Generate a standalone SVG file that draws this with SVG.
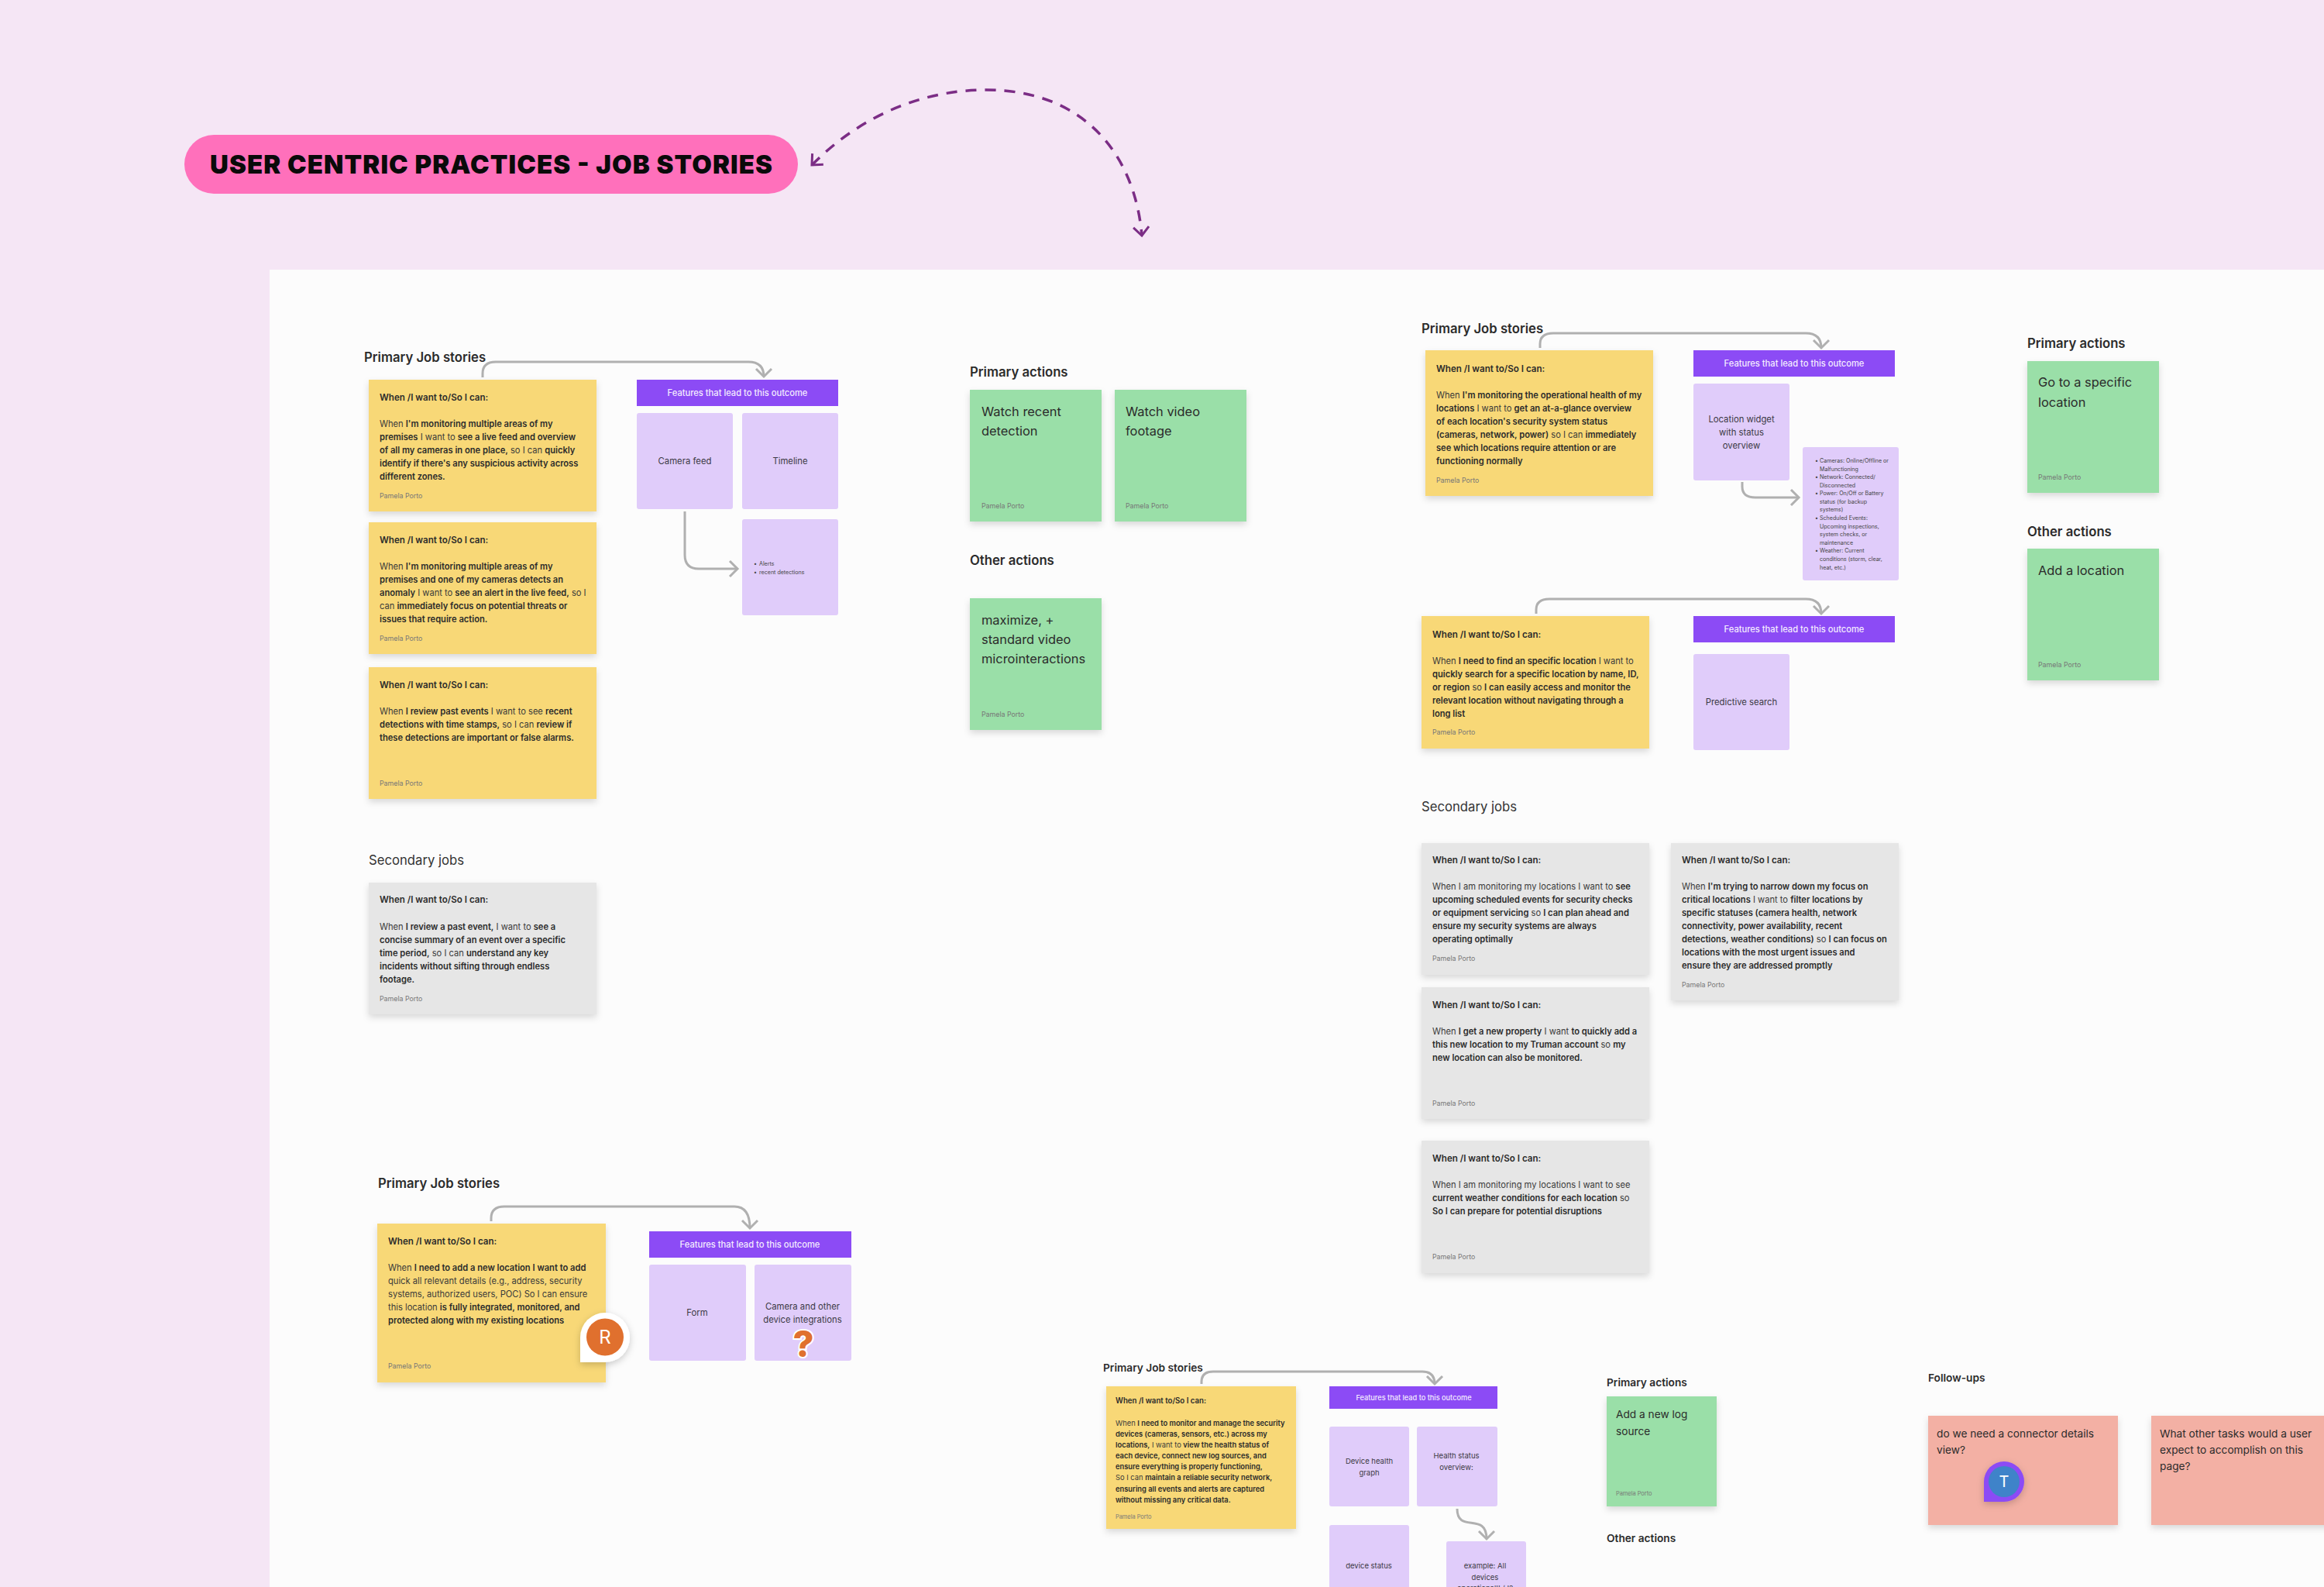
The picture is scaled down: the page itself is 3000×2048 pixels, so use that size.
<svg xmlns="http://www.w3.org/2000/svg" width="3000" height="2048" viewBox="0 0 3000 2048">
<style>
text{font-family:Inter,"Liberation Sans",sans-serif;fill:#2b2b2b}
.y{fill:#f8d877}.g{fill:#e6e6e6}.gr{fill:#9adfa8}.pk{fill:#f3b0a4}
.s{filter:url(#sh)}
.bar{fill:#8c4bf5}.li{fill:#e0ccfa}
.t{font-size:11.15px;font-weight:400;fill:#3a3a3a}
.t .b{font-weight:600;fill:#2b2b2b}
.h{font-size:11.6px;font-weight:600}
.a{font-size:8.8px;fill:#777}
.ft{font-size:11.15px;font-weight:500;fill:#f4ecff;text-anchor:middle}
.lt{font-size:11.3px;fill:#3c3a44;text-anchor:middle}
.sm{font-size:7.1px;fill:#444}
.big{font-size:16.4px;fill:#2b2b2b}
.ttl{font-size:16.7px;font-weight:600}
.sec{font-size:16.7px;fill:#333}
.t2{font-size:9.35px;fill:#3a3a3a}.t2 .b{font-weight:600;fill:#2b2b2b}
.h2{font-size:9.7px;font-weight:600}
.a2{font-size:7.4px;fill:#777}
.ft2{font-size:9.2px;font-weight:500;fill:#f4ecff;text-anchor:middle}
.lt2{font-size:9.5px;fill:#3c3a44;text-anchor:middle}
.ttl2{font-size:13.7px;font-weight:600}
.big2{font-size:13.7px;fill:#2b2b2b}
.c{fill:none;stroke:#b0b0b0;stroke-width:3;marker-end:url(#ah)}
</style>
<defs>
<filter id="sh" x="-10%" y="-10%" width="120%" height="125%"><feDropShadow dx="0" dy="4" stdDeviation="4" flood-color="#000" flood-opacity=".14"/></filter>
<filter id="sh2" x="-40%" y="-40%" width="180%" height="180%"><feDropShadow dx="0" dy="3" stdDeviation="5" flood-color="#000" flood-opacity=".2"/></filter>
<marker id="ah" markerUnits="userSpaceOnUse" markerWidth="24" markerHeight="24" refX="12" refY="12" orient="auto"><path d="M2,2 L12,12 L2,22" fill="none" stroke="#b0b0b0" stroke-width="3"/></marker>
<marker id="dh" markerUnits="userSpaceOnUse" markerWidth="28" markerHeight="28" refX="14" refY="14" orient="auto-start-reverse"><path d="M3,4 L14,14 L3,24" fill="none" stroke="#7b2d85" stroke-width="3"/></marker>
</defs>
<rect width="3000" height="2048" fill="#f5e6f5"/>
<rect x="348" y="348" width="2652" height="1700" fill="#fcfcfc"/>
<g id="title"><rect x="238" y="174" width="792" height="76" rx="38" fill="#ff70bb"/>
<text x="271" y="224" font-size="33" font-weight="900" style="fill:#0a0a0a" textLength="726" lengthAdjust="spacing">USER CENTRIC PRACTICES - JOB STORIES</text></g>
<g id="connectors">
<path d="M1048,213 C1110,150 1190,116 1273,116 C1400,116 1465,200 1474,304" fill="none" stroke="#7b2d85" stroke-width="3.500" stroke-dasharray="14 11" marker-start="url(#dh)" marker-end="url(#dh)"/>
<path class="c" d="M623,487 V482 Q623,467 640,467 H966 Q986,467 986,486"/>
<path class="c" d="M884,660 V716 Q884,734 902,734 H952"/>
<path class="c" d="M1988,449 V444 Q1988,430 2005,430 H2331 Q2351,430 2351,449"/>
<path class="c" d="M2249,622 V628 Q2249,642 2266,642 H2322"/>
<path class="c" d="M1983,792 V787 Q1983,773 2000,773 H2331 Q2351,773 2351,792"/>
<path class="c" d="M634,1576 V1572 Q634,1557 651,1557 H948 Q968,1557 968,1585"/>
<path class="c" d="M1551,1786 V1783 Q1551,1770 1566,1770 H1836 Q1852,1770 1852,1786"/>
<path class="c" d="M1881,1947 C1881,1980 1919,1950 1919,1986"/>
</g>

<g id="block1">
<text class="ttl" x="470" y="467">Primary Job stories</text>
<g id="story1"><rect class="y s" x="476" y="490" width="294" height="170"/>
<text class="h" x="490" y="517">When /I want to/So I can:</text>
<text class="t" x="490" y="551">When <tspan class="b">I'm monitoring multiple areas of my</tspan></text>
<text class="t" x="490" y="568"><tspan class="b">premises</tspan>  I want to <tspan class="b">see a live feed and overview</tspan></text>
<text class="t" x="490" y="585"><tspan class="b">of all my cameras in one place,</tspan> so I can <tspan class="b">quickly</tspan></text>
<text class="t" x="490" y="602"><tspan class="b">identify if there's any suspicious activity across</tspan></text>
<text class="t" x="490" y="619"><tspan class="b">different zones.</tspan></text>
<text class="a" x="490" y="643">Pamela Porto</text></g>
<g id="story2"><rect class="y s" x="476" y="674" width="294" height="170"/>
<text class="h" x="490" y="701">When /I want to/So I can:</text>
<text class="t" x="490" y="735">When <tspan class="b">I'm monitoring multiple areas of my</tspan></text>
<text class="t" x="490" y="752"><tspan class="b">premises and one of my cameras detects an</tspan></text>
<text class="t" x="490" y="769"><tspan class="b">anomaly</tspan> I want to <tspan class="b">see an alert in the live feed,</tspan> so I</text>
<text class="t" x="490" y="786">can <tspan class="b">immediately focus on potential threats or</tspan></text>
<text class="t" x="490" y="803"><tspan class="b">issues that require action.</tspan></text>
<text class="a" x="490" y="827">Pamela Porto</text></g>
<g id="story3"><rect class="y s" x="476" y="861" width="294" height="170"/>
<text class="h" x="490" y="888">When /I want to/So I can:</text>
<text class="t" x="490" y="922">When <tspan class="b">I review past events</tspan> I want to see <tspan class="b">recent</tspan></text>
<text class="t" x="490" y="939"><tspan class="b">detections with time stamps,</tspan> so I can <tspan class="b">review if</tspan></text>
<text class="t" x="490" y="956"><tspan class="b">these detections are important or false alarms.</tspan></text>
<text class="a" x="490" y="1014">Pamela Porto</text></g>
<g id="features1"><rect class="bar" x="822" y="490" width="260" height="34"/><text class="ft" x="952" y="511">Features that lead to this outcome</text></g>
<g id="camera-feed"><rect class="li" x="822" y="533" width="124" height="124" rx="3"/><text class="lt" x="884" y="599">Camera feed</text></g>
<g id="timeline"><rect class="li" x="958" y="533" width="124" height="124" rx="3"/><text class="lt" x="1020" y="599">Timeline</text></g>
<g id="alerts"><rect class="li" x="958" y="670" width="124" height="124" rx="3"/>
<text class="sm" x="973" y="730">•</text><text class="sm" x="980" y="730">Alerts</text>
<text class="sm" x="973" y="741">•</text><text class="sm" x="980" y="741">recent detections</text></g>
<text class="sec" x="476" y="1116">Secondary jobs</text>
<g id="secondary1"><rect class="g s" x="476" y="1139" width="294" height="170"/>
<text class="h" x="490" y="1165">When /I want to/So I can:</text>
<text class="t" x="490" y="1200">When <tspan class="b">I review a past event,</tspan> I want to <tspan class="b">see a</tspan></text>
<text class="t" x="490" y="1217"><tspan class="b">concise summary of an event over a specific</tspan></text>
<text class="t" x="490" y="1234"><tspan class="b">time period,</tspan> so I can <tspan class="b">understand any key</tspan></text>
<text class="t" x="490" y="1251"><tspan class="b">incidents without sifting through endless</tspan></text>
<text class="t" x="490" y="1268"><tspan class="b">footage.</tspan></text>
<text class="a" x="490" y="1292">Pamela Porto</text></g>
</g>

<g id="block2">
<text class="ttl" x="1252" y="486">Primary actions</text>
<g id="watch-recent"><rect class="gr s" x="1252" y="503" width="170" height="170"/>
<text class="big" x="1267" y="537">Watch recent</text><text class="big" x="1267" y="562">detection</text><text class="a" x="1267" y="656">Pamela Porto</text></g>
<g id="watch-video"><rect class="gr s" x="1439" y="503" width="170" height="170"/>
<text class="big" x="1453" y="537">Watch video</text><text class="big" x="1453" y="562">footage</text><text class="a" x="1453" y="656">Pamela Porto</text></g>
<text class="ttl" x="1252" y="729">Other actions</text>
<g id="maximize"><rect class="gr s" x="1252" y="772" width="170" height="170"/>
<text class="big" x="1267" y="806">maximize, +</text><text class="big" x="1267" y="831">standard video</text><text class="big" x="1267" y="856">microinteractions</text><text class="a" x="1267" y="925">Pamela Porto</text></g>
</g>

<g id="block3">
<text class="ttl" x="1835" y="430">Primary Job stories</text>
<g id="story4"><rect class="y s" x="1840" y="452" width="294" height="188"/>
<text class="h" x="1854" y="480">When /I want to/So I can:</text>
<text class="t" x="1854" y="514">When <tspan class="b">I'm monitoring the operational health of my</tspan></text>
<text class="t" x="1854" y="531"><tspan class="b">locations</tspan>  I want to <tspan class="b">get an at-a-glance overview</tspan></text>
<text class="t" x="1854" y="548"><tspan class="b">of each location's security system status</tspan></text>
<text class="t" x="1854" y="565"><tspan class="b">(cameras, network, power)</tspan> so I can <tspan class="b">immediately</tspan></text>
<text class="t" x="1854" y="582"><tspan class="b">see which locations require attention or are</tspan></text>
<text class="t" x="1854" y="599"><tspan class="b">functioning normally</tspan></text>
<text class="a" x="1854" y="623">Pamela Porto</text></g>
<g id="features4"><rect class="bar" x="2186" y="452" width="260" height="34"/><text class="ft" x="2316" y="473">Features that lead to this outcome</text></g>
<g id="location-widget"><rect class="li" x="2186" y="495" width="124" height="125" rx="3"/>
<text class="lt" x="2248" y="545">Location widget</text><text class="lt" x="2248" y="562">with status</text><text class="lt" x="2248" y="579">overview</text></g>
<g id="status-list"><rect class="li" x="2327" y="577" width="124" height="172" rx="3"/>
<text class="sm" x="2343" y="597">•</text><text class="sm" x="2349" y="597">Cameras: Online/Offline or</text>
<text class="sm" x="2349" y="608">Malfunctioning</text>
<text class="sm" x="2343" y="618">•</text><text class="sm" x="2349" y="618">Network: Connected/</text>
<text class="sm" x="2349" y="629">Disconnected</text>
<text class="sm" x="2343" y="639">•</text><text class="sm" x="2349" y="639">Power: On/Off or Battery</text>
<text class="sm" x="2349" y="650">status (for backup</text>
<text class="sm" x="2349" y="660">systems)</text>
<text class="sm" x="2343" y="671">•</text><text class="sm" x="2349" y="671">Scheduled Events:</text>
<text class="sm" x="2349" y="682">Upcoming inspections,</text>
<text class="sm" x="2349" y="692">system checks, or</text>
<text class="sm" x="2349" y="703">maintenance</text>
<text class="sm" x="2343" y="713">•</text><text class="sm" x="2349" y="713">Weather: Current</text>
<text class="sm" x="2349" y="724">conditions (storm, clear,</text>
<text class="sm" x="2349" y="735">heat, etc.)</text></g>
<g id="story5"><rect class="y s" x="1835" y="795" width="294" height="171"/>
<text class="h" x="1849" y="823">When /I want to/So I can:</text>
<text class="t" x="1849" y="857">When <tspan class="b">I need to find an specific location</tspan> I want to</text>
<text class="t" x="1849" y="874"><tspan class="b">quickly search for a specific location by name, ID,</tspan></text>
<text class="t" x="1849" y="891"><tspan class="b">or region</tspan> so <tspan class="b">I can easily access and monitor the</tspan></text>
<text class="t" x="1849" y="908"><tspan class="b">relevant location without navigating through a</tspan></text>
<text class="t" x="1849" y="925"><tspan class="b">long list</tspan></text>
<text class="a" x="1849" y="948">Pamela Porto</text></g>
<g id="features5"><rect class="bar" x="2186" y="795" width="260" height="34"/><text class="ft" x="2316" y="816">Features that lead to this outcome</text></g>
<g id="predictive"><rect class="li" x="2186" y="844" width="124" height="124" rx="3"/><text class="lt" x="2248" y="910">Predictive search</text></g>
<text class="sec" x="1835" y="1047">Secondary jobs</text>
<g id="secondary2"><rect class="g s" x="1835" y="1088" width="294" height="170"/>
<text class="h" x="1849" y="1114">When /I want to/So I can:</text>
<text class="t" x="1849" y="1148">When I am monitoring my locations I want to <tspan class="b">see</tspan></text>
<text class="t" x="1849" y="1165"><tspan class="b">upcoming scheduled events for security checks</tspan></text>
<text class="t" x="1849" y="1182"><tspan class="b">or equipment servicing</tspan> so <tspan class="b">I can plan ahead and</tspan></text>
<text class="t" x="1849" y="1199"><tspan class="b">ensure my security systems are always</tspan></text>
<text class="t" x="1849" y="1216"><tspan class="b">operating optimally</tspan></text>
<text class="a" x="1849" y="1240">Pamela Porto</text></g>
<g id="secondary3"><rect class="g s" x="2157" y="1088" width="294" height="203"/>
<text class="h" x="2171" y="1114">When /I want to/So I can:</text>
<text class="t" x="2171" y="1148">When <tspan class="b">I'm trying to narrow down my focus on</tspan></text>
<text class="t" x="2171" y="1165"><tspan class="b">critical locations</tspan> I want to <tspan class="b">filter locations by</tspan></text>
<text class="t" x="2171" y="1182"><tspan class="b">specific statuses (camera health, network</tspan></text>
<text class="t" x="2171" y="1199"><tspan class="b">connectivity, power availability, recent</tspan></text>
<text class="t" x="2171" y="1216"><tspan class="b">detections, weather conditions)</tspan> so <tspan class="b">I can focus on</tspan></text>
<text class="t" x="2171" y="1233"><tspan class="b">locations with the most urgent issues and</tspan></text>
<text class="t" x="2171" y="1250"><tspan class="b">ensure they are addressed promptly</tspan></text>
<text class="a" x="2171" y="1274">Pamela Porto</text></g>
<g id="secondary4"><rect class="g s" x="1835" y="1274" width="294" height="170"/>
<text class="h" x="1849" y="1301">When /I want to/So I can:</text>
<text class="t" x="1849" y="1335">When <tspan class="b">I get a new property</tspan> I want <tspan class="b">to quickly add a</tspan></text>
<text class="t" x="1849" y="1352"><tspan class="b">this new location to my Truman account</tspan> so <tspan class="b">my</tspan></text>
<text class="t" x="1849" y="1369"><tspan class="b">new location can also be monitored.</tspan></text>
<text class="a" x="1849" y="1427">Pamela Porto</text></g>
<g id="secondary5"><rect class="g s" x="1835" y="1472" width="294" height="171"/>
<text class="h" x="1849" y="1499">When /I want to/So I can:</text>
<text class="t" x="1849" y="1533">When I am monitoring my locations I want to see</text>
<text class="t" x="1849" y="1550"><tspan class="b">current weather conditions for each location</tspan> so</text>
<text class="t" x="1849" y="1567"><tspan class="b">So I can prepare for potential disruptions</tspan></text>
<text class="a" x="1849" y="1625">Pamela Porto</text></g>
</g>

<g id="block4">
<text class="ttl" x="2617" y="449">Primary actions</text>
<g id="go-to"><rect class="gr s" x="2617" y="466" width="170" height="170"/>
<text class="big" x="2631" y="499">Go to a specific</text><text class="big" x="2631" y="525">location</text><text class="a" x="2631" y="619">Pamela Porto</text></g>
<text class="ttl" x="2617" y="692">Other actions</text>
<g id="add-location"><rect class="gr s" x="2617" y="708" width="170" height="170"/>
<text class="big" x="2631" y="742">Add a location</text><text class="a" x="2631" y="861">Pamela Porto</text></g>
</g>

<g id="block5">
<text class="ttl" x="488" y="1533">Primary Job stories</text>
<g id="story6"><rect class="y s" x="487" y="1579" width="295" height="205"/>
<text class="h" x="501" y="1606">When /I want to/So I can:</text>
<text class="t" x="501" y="1640">When <tspan class="b">I need to add a new location I want to add</tspan></text>
<text class="t" x="501" y="1657">quick all relevant details (e.g., address, security</text>
<text class="t" x="501" y="1674">systems, authorized users, POC) So I can ensure</text>
<text class="t" x="501" y="1691">this location <tspan class="b">is fully integrated, monitored, and</tspan></text>
<text class="t" x="501" y="1708"><tspan class="b">protected along with my existing locations</tspan></text>
<text class="a" x="501" y="1766">Pamela Porto</text></g>
<g id="features6"><rect class="bar" x="838" y="1589" width="261" height="34"/><text class="ft" x="968" y="1610">Features that lead to this outcome</text></g>
<g id="form"><rect class="li" x="838" y="1632" width="125" height="124" rx="3"/><text class="lt" x="900" y="1698">Form</text></g>
<g id="camera-device"><rect class="li" x="974" y="1632" width="125" height="124" rx="3"/>
<text class="lt" x="1036" y="1690">Camera and other</text><text class="lt" x="1036" y="1707">device integrations</text>
<text x="1037" y="1751" font-size="47" font-weight="800" text-anchor="middle" style="fill:#e0702e;stroke:#fff;stroke-width:4;paint-order:stroke">?</text></g>
<g id="cursor-r"><path d="M749,1758 V1726 A32,32 0 1 1 781,1758 Z" fill="#fff" filter="url(#sh2)"/><circle cx="781" cy="1725.500" r="24" fill="#e0702e"/>
<text x="781" y="1734" font-size="24" text-anchor="middle" style="fill:#fff">R</text></g>
</g>

<g id="block6">
<text class="ttl2" x="1424" y="1770">Primary Job stories</text>
<g id="story7"><rect class="y s" x="1428" y="1789" width="245" height="184"/>
<text class="h2" x="1440" y="1811">When /I want to/So I can:</text>
<text class="t2" x="1440" y="1840">When <tspan class="b">I need to monitor and manage the security</tspan></text>
<text class="t2" x="1440" y="1854"><tspan class="b">devices (cameras, sensors, etc.) across my</tspan></text>
<text class="t2" x="1440" y="1868"><tspan class="b">locations,</tspan> I want to <tspan class="b">view the health status of</tspan></text>
<text class="t2" x="1440" y="1882"><tspan class="b">each device, connect new log sources, and</tspan></text>
<text class="t2" x="1440" y="1896"><tspan class="b">ensure everything is properly functioning,</tspan></text>
<text class="t2" x="1440" y="1910">So I can <tspan class="b">maintain a reliable security network,</tspan></text>
<text class="t2" x="1440" y="1925"><tspan class="b">ensuring all events and alerts are captured</tspan></text>
<text class="t2" x="1440" y="1939"><tspan class="b">without missing any critical data.</tspan></text>
<text class="a2" x="1440" y="1960">Pamela Porto</text></g>
<g id="features7"><rect class="bar" x="1716" y="1789" width="217" height="29"/><text class="ft2" x="1825" y="1807">Features that lead to this outcome</text></g>
<g id="device-health"><rect class="li" x="1716" y="1841" width="103" height="103" rx="3"/>
<text class="lt2" x="1767.500" y="1889">Device health</text><text class="lt2" x="1767.500" y="1904">graph</text></g>
<g id="health-status"><rect class="li" x="1829" y="1841" width="104" height="103" rx="3"/>
<text class="lt2" x="1880" y="1882">Health status</text><text class="lt2" x="1880" y="1897">overview:</text></g>
<g id="device-status"><rect class="li" x="1716" y="1968" width="103" height="103" rx="3"/><text class="lt2" x="1767" y="2024">device status</text></g>
<g id="example"><rect class="li" x="1867" y="1989" width="103" height="103" rx="3"/>
<text class="lt2" x="1917" y="2024">example: All</text><text class="lt2" x="1917" y="2039">devices</text><text class="lt2" x="1917" y="2053">operational!! / !?</text></g>
<text class="ttl2" x="2074" y="1789">Primary actions</text>
<g id="add-log"><rect class="gr s" x="2074" y="1802" width="142" height="142"/>
<text class="big2" x="2086" y="1830">Add a new log</text><text class="big2" x="2086" y="1852">source</text><text class="a2" x="2086" y="1930">Pamela Porto</text></g>
<text class="ttl2" x="2074" y="1990">Other actions</text>
<text class="ttl2" x="2489" y="1783">Follow-ups</text>
<g id="followup1"><rect class="pk s" x="2489" y="1827" width="245" height="141"/>
<text class="big2" x="2500" y="1855">do we need a connector details</text><text class="big2" x="2500" y="1876">view?</text></g>
<g id="followup2"><rect class="pk s" x="2777" y="1827" width="245" height="141"/>
<text class="big2" x="2788" y="1855">What other tasks would a user</text><text class="big2" x="2788" y="1876">expect to accomplish on this</text><text class="big2" x="2788" y="1897">page?</text></g>
<g id="cursor-t"><path d="M2561,1938 V1912 A26,26 0 1 1 2587,1938 Z" fill="#8c4bf5" filter="url(#sh2)"/><circle cx="2587" cy="1912" r="20" fill="#3f83c9"/>
<text x="2587" y="1919" font-size="20" text-anchor="middle" style="fill:#fff">T</text></g>
</g>
</svg>
